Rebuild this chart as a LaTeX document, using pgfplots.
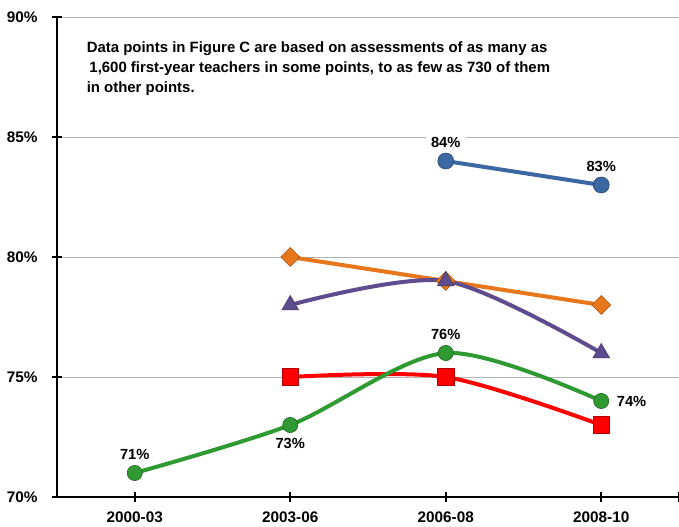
\documentclass[border=0pt]{standalone}
\usepackage{pgfplots}
\pgfplotsset{compat=1.18}
\usepackage{fontspec}
\setmainfont{Liberation Sans}
\definecolor{cblue}{HTML}{3B68A3}
\definecolor{corange}{HTML}{E8761A}
\definecolor{cpurple}{HTML}{5F4C8E}
\definecolor{cgreen}{HTML}{2F9A32}
\definecolor{cred}{HTML}{FF0000}
\tikzset{
  datalbl/.style={font=\fontsize{11}{12}\selectfont\bfseries, inner sep=1pt},
}
\begin{document}
\begin{tikzpicture}
\begin{axis}[
  scale only axis,
  width=466.5pt, height=360pt,
  at={(0,0)}, anchor=south west,
  xmin=-0.5, xmax=3.5,
  ymin=70, ymax=90,
  axis x line*=bottom, axis y line*=left,
  axis line style={line width=2pt, black, -},
  xtick={0,1,2,3},
  xticklabels={2000-03,2003-06,2006-08,2008-10},
  extra x ticks={3.5}, extra x tick labels={},
  extra x tick style={grid=none},
  ytick={70,75,80,85,90},
  yticklabel={\pgfmathprintnumber{\tick}\%},
  ymajorgrids, grid style={gray!60, line width=0.6pt},
  tick align=center,
  major tick length=7pt,
  tick style={line width=1.5pt, black},
  ticklabel style={font=\fontsize{11.5}{13}\selectfont\bfseries, /pgf/number format/assume math mode=true},
  yticklabel style={xshift=-7.5pt},
  xticklabel style={yshift=-4pt},
  clip=false,
]
% orange diamonds
\addplot[corange, line width=3pt, mark=square*, mark size=5pt,
  mark options={rotate=45, fill=corange, draw=corange!70!black, line width=0.4pt}]
  coordinates {(1,80) (2,79) (3,78)};
% purple triangles
\addplot[cpurple, line width=3pt, smooth, mark=triangle*, mark size=7.2pt,
  mark options={fill=cpurple, draw=cpurple!70!black, line width=0.4pt}]
  coordinates {(1,78) (2,79) (3,76)};
% red squares
\addplot[cred, line width=3pt, smooth, mark=square*, mark size=6.3pt,
  mark options={fill=cred, draw=cred!70!black, line width=0.4pt}]
  coordinates {(1,75) (2,75) (3,73)};
% green circles
\addplot[cgreen, line width=3pt, smooth, mark=*, mark size=5.7pt,
  mark options={fill=cgreen, draw=cgreen!60!black, line width=0.4pt}]
  coordinates {(0,71) (1,73) (2,76) (3,74)};
% blue circles
\addplot[cblue, line width=3pt, mark=*, mark size=6pt,
  mark options={fill=cblue, draw=cblue!60!black, line width=0.4pt}]
  coordinates {(2,84) (3,83)};

\node[datalbl, anchor=south] at (axis cs:0,71.5) {71\%};
\node[datalbl, anchor=north] at (axis cs:1,72.5) {73\%};
\node[datalbl, anchor=south] at (axis cs:2,76.5) {76\%};
\node[datalbl, anchor=west] at (axis cs:3.09,74) {74\%};
\node[datalbl, anchor=south, fill=white, inner xsep=4pt] at (axis cs:2,84.5) {84\%};
\node[datalbl, anchor=south] at (axis cs:3,83.5) {83\%};

\node[anchor=north west, align=left, inner sep=0pt,
  font=\fontsize{11.2}{15.3}\selectfont\bfseries] at (axis cs:-0.31,89.0)
  {Data points in Figure C are based on assessments of as many as\\
   \hspace{2pt}1,600 first-year teachers in some points, to as few as 730 of them\\
   in other points.};
\end{axis}
\pgfresetboundingbox
\path[use as bounding box] (-42.75pt,-21.75pt) rectangle (466.5pt,372.75pt);
\end{tikzpicture}
\end{document}
